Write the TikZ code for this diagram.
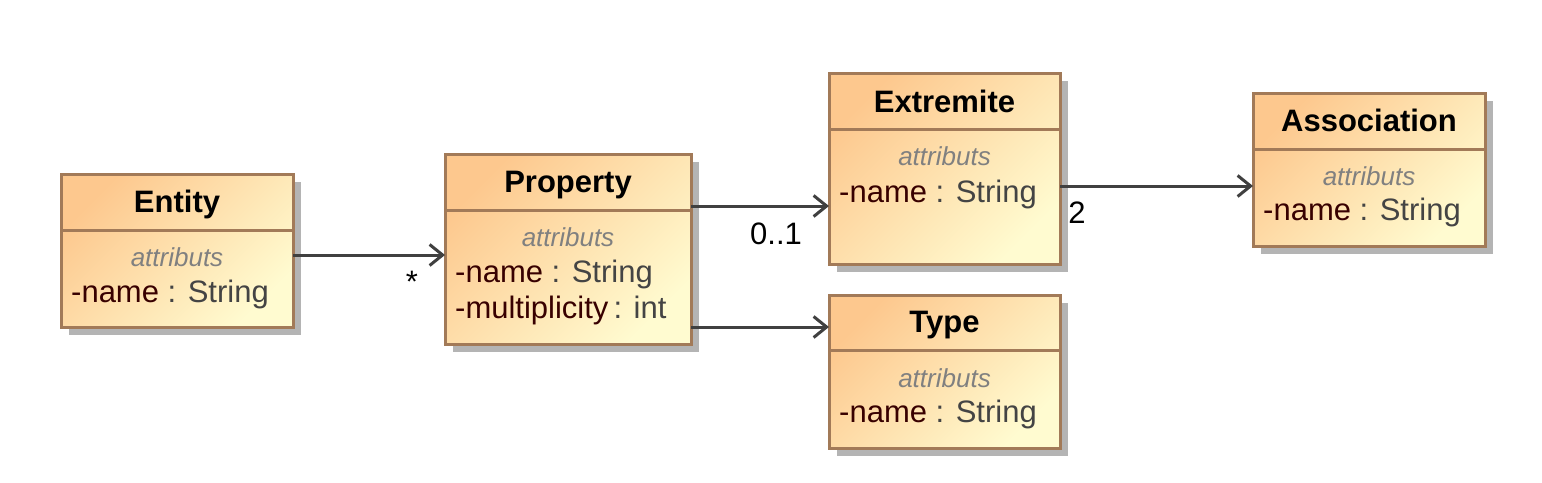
\documentclass[tikz,border=0pt]{standalone}
\usepackage{fontspec}
\setmainfont{Liberation Sans}
\usetikzlibrary{arrows.meta,shadows}
\definecolor{boxA}{RGB}{253,200,142}
\definecolor{boxB}{RGB}{255,251,208}
\definecolor{boxline}{RGB}{162,122,88}
\definecolor{shadowgray}{RGB}{180,180,180}
\definecolor{linkgray}{RGB}{64,64,64}
\definecolor{attrname}{RGB}{56,0,0}
\definecolor{attrtype}{RGB}{68,68,68}
\definecolor{stereo}{RGB}{128,128,128}
\tikzset{
  classbox/.style={draw=boxline, line width=3pt, top color=boxA, bottom color=boxB,
    shading angle=45, inner sep=0pt, outer sep=0pt,
    drop shadow={shadow xshift=8pt, shadow yshift=-8pt, fill=shadowgray, opacity=1}},
  divline/.style={draw=boxline, line width=3pt},
  titletext/.style={anchor=base, inner sep=0pt, font=\fontsize{31}{36}\selectfont\bfseries, text=black},
  stereotext/.style={anchor=base, inner sep=0pt, font=\fontsize{26}{30}\selectfont\itshape, text=stereo},
  attrtext/.style={anchor=base west, inner sep=0pt, font=\fontsize{31}{36}\selectfont, text=attrtype},
  multtext/.style={anchor=base, inner sep=0pt, font=\fontsize{31}{36}\selectfont, text=black},
  assocline/.style={draw=linkgray, line width=3pt, -{Straight Barb[length=13pt,width=21pt]}},
}
\newcommand\ClassBox[6]{%
  \node[classbox, minimum width={#4-#2}, minimum height={#5-#3}] (#1) at ({(#2+#4)/2},{(#3+#5)/2}) {};
  \draw[divline] (#1.west |- 0,#6) -- (#1.east |- 0,#6);
}
\newcommand\AttrN[1]{\textcolor{attrname}{-#1}}
\begin{document}
\begin{tikzpicture}[x=1pt,y=-1pt]
\useasboundingbox (0,0) rectangle (1542,482);
% Entity
\ClassBox{ent}{61}{174}{293}{327}{230}
\node[titletext] (ent-t) at (177,212) {Entity};
\node[stereotext] (ent-s) at (177,266) {attributs};
\node[attrtext] (ent-a1) at (71,302) {\AttrN{name} : String};
% Property
\ClassBox{prop}{445}{154}{691}{344}{210}
\node[titletext] (prop-t) at (568,192) {Property};
\node[stereotext] (prop-s) at (568,246) {attributs};
\node[attrtext] (prop-a1) at (455,282) {\AttrN{name} : String};
\node[attrtext] (prop-a2) at (455,318) {\AttrN{multiplicity}\,: int};
% Extremite
\ClassBox{ext}{829}{73}{1060}{264}{129}
\node[titletext] (ext-t) at (944.5,112) {Extremite};
\node[stereotext] (ext-s) at (944.5,165) {attributs};
\node[attrtext] (ext-a1) at (839,202) {\AttrN{name} : String};
% Type
\ClassBox{typ}{829}{295}{1060}{448}{350}
\node[titletext] (typ-t) at (944.5,332) {Type};
\node[stereotext] (typ-s) at (944.5,387) {attributs};
\node[attrtext] (typ-a1) at (839,422) {\AttrN{name} : String};
% Association
\ClassBox{asc}{1253}{93}{1485}{246}{149}
\node[titletext] (asc-t) at (1369,131) {Association};
\node[stereotext] (asc-s) at (1369,185) {attributs};
\node[attrtext] (asc-a1) at (1263,220) {\AttrN{name} : String};
% connectors
\draw[assocline] (ent.east |- 0,255) -- (prop.west |- 0,255);
\draw[assocline] (prop.east |- 0,206) -- (ext.west |- 0,206);
\draw[assocline] (prop.east |- 0,327) -- (typ.west |- 0,327);
\draw[assocline] (ext.east |- 0,186) -- (asc.west |- 0,186);
% multiplicities
\node[multtext] (m1) at (412,292) {*};
\node[multtext] (m2) at (776,244) {0..1};
\node[multtext] (m3) at (1077,223) {2};
\end{tikzpicture}
\end{document}
